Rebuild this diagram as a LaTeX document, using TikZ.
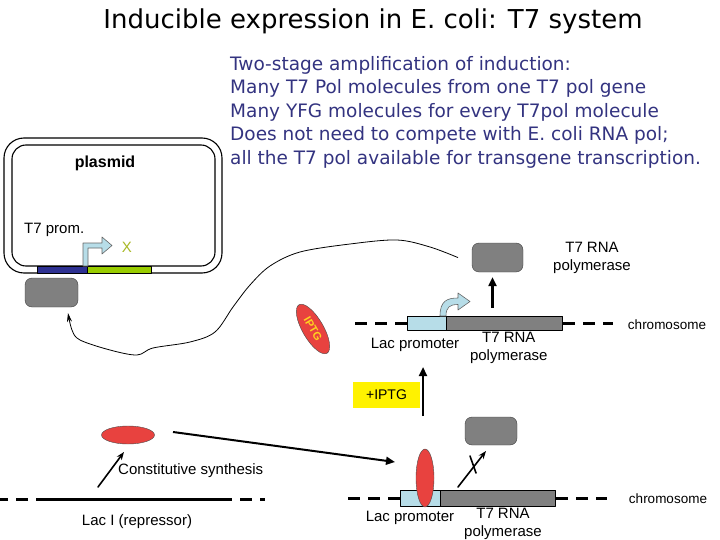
\documentclass[tikz,border=0pt]{standalone}
\usepackage{fontspec}
\setmainfont{Liberation Sans}
\newfontfamily\handfont{DejaVu Sans}
\usetikzlibrary{shapes.geometric, arrows.meta, positioning}
\definecolor{polgray}{HTML}{808080}
\definecolor{lacblue}{HTML}{B7DDE8}
\definecolor{promnavy}{HTML}{2E3192}
\definecolor{genegreen}{HTML}{99CC00}
\definecolor{repred}{HTML}{E8423F}
\definecolor{infonavy}{HTML}{333380}
\definecolor{xolive}{HTML}{A9B826}
\definecolor{iptggold}{HTML}{FFD21F}
\tikzset{
  polbox/.style={draw=black!75, fill=polgray, rounded corners=7pt, inner sep=0pt},
  lbl/.style={inner sep=0pt, align=center, font=\fontsize{15}{18}\selectfont},
  chromo/.style={line width=3pt, line cap=butt, dash pattern=on 12pt off 8pt},
  genebar/.style={draw=black, line width=0.8pt, inner sep=0pt},
  repellipse/.style={ellipse, draw=black!70, fill=repred, inner sep=0pt},
  infoline/.style={anchor=west, inner sep=0pt, text=infonavy, font=\handfont\fontsize{18.5}{20}\selectfont},
  blackarrow/.style={-{Triangle[length=9pt, width=8pt]}, line width=2.2pt, line cap=butt},
  thinarrow/.style={-{Stealth[length=8pt, width=6pt]}, line width=1.6pt},
}
\begin{document}
\begin{tikzpicture}[x=1pt, y=-1pt, line cap=round, line join=round]
\useasboundingbox (0,0) rectangle (720,540);
% title and notes
\node[inner sep=0pt, font=\handfont\fontsize{26}{30}\selectfont] (title) at (373,21) {Inducible expression in E. coli: T7 system};
\foreach \txt [count=\i] in {{Two-stage amplification of induction:}, {Many T7 Pol molecules from one T7 pol gene}, {Many YFG molecules for every T7pol molecule}, {Does not need to compete with E. coli RNA pol;}, {all the T7 pol available for transgene transcription.}}
  \node[infoline] (info\i) at (230, {41.5+23.5*\i}) {\txt};

% plasmid
\draw[line width=1.1pt, rounded corners=20pt] (4,138) rectangle (222,273);
\draw[line width=1.1pt, rounded corners=14pt] (12,145) rectangle (215,266);
\node[genebar, fill=promnavy, minimum width=50pt, minimum height=7pt] (t7prom) at (62,269.5) {};
\node[genebar, fill=genegreen, minimum width=64pt, minimum height=7pt, right=0pt of t7prom] (xgene) {};
\draw[fill=lacblue, draw=black!60, line width=0.6pt] (83,266) -- (83,243) -- (102,243) -- (102,237) -- (112,245.5) -- (102,254) -- (102,248) -- (88,248) -- (88,266) -- cycle;
\node[lbl, font=\bfseries\fontsize{16}{19}\selectfont] (plasmid) at (105,163) {plasmid};
\node[lbl, anchor=west] (promlbl) at (24,230) {T7 prom.};
\node[lbl, text=xolive] (xlbl) at (127,247) {X};
\node[polbox, minimum width=53pt, minimum height=29pt] (plasmidpol) at (51.5,292.5) {};

% induced chromosome
\node[genebar, fill=lacblue, minimum width=39pt, minimum height=14pt] (midlac) at (426.5,323) {};
\node[genebar, fill=polgray, minimum width=116pt, minimum height=14pt, right=0pt of midlac] (midgene) {};
\coordinate (midleft) at (350,323);
\coordinate (midright) at (613,323);
\draw[chromo] (midlac.west) -- (midleft);
\draw[chromo] (midgene.east) -- (midright);
\draw[fill=lacblue, draw=black!60, line width=0.6pt] (440,316) .. controls (440,301) and (447,298) .. (458,298) -- (458,293) -- (470,301.5) -- (458,310) -- (458,304.5) .. controls (450,304.5) and (446,307) .. (446,316) -- cycle;
\node[polbox, minimum width=51pt, minimum height=29pt] (midpol) at (497.5,257.5) {};
\coordinate (midup) at ([xshift=-5pt]midpol.south);
\draw[blackarrow, shorten <=8pt, shorten >=5pt] (midup |- midgene.north) -- (midup);
\node[lbl] (midpollbl) at (592,257.5) {T7 RNA\\polymerase};
\node[lbl, below=2pt of midgene, xshift=4pt] (midgenelbl) {T7 RNA\\polymerase};
\node[lbl] (midlaclbl) at (415,345) {Lac promoter};
\node[lbl, font=\fontsize{13.5}{16}\selectfont] (midchr) at (667,325) {chromosome};

% T7 pol goes back to the plasmid
\coordinate (curvestart) at ([xshift=-14pt]midpol.west);
\coordinate (curvetip) at (68,313);
\draw[line width=0.8pt, -{Stealth[length=9pt, width=5pt]}] plot[smooth, tension=0.55] coordinates {(curvestart) (430,247) (397,240) (350,244) (300,252) (270,266) (250,285) (233,307) (215,332) (190,342) (153,348) (137,355) (110,350) (80,340) (72,330) (curvetip)};

% inducer
\node[repellipse, minimum width=56pt, minimum height=21pt, rotate=-60, text=iptggold, font=\bfseries\fontsize{11}{13}\selectfont] (iptg) at (313,329) {IPTG};
\node[fill=yellow, minimum width=67pt, minimum height=26pt, inner sep=0pt, font=\fontsize{14}{16}\selectfont] (plusiptg) at (386.5,395) {+IPTG};
\coordinate (iptgfoot) at (423,416);
\coordinate (iptgtip) at (423,367);
\draw[blackarrow] (iptgfoot) -- (iptgtip);

% repressed chromosome
\node[genebar, fill=lacblue, minimum width=40pt, minimum height=16pt] (botlac) at (420,498) {};
\node[genebar, fill=polgray, minimum width=115pt, minimum height=16pt, right=0pt of botlac] (botgene) {};
\coordinate (botleft) at (343,498);
\coordinate (botright) at (607,498);
\draw[chromo] (botlac.west) -- (botleft);
\draw[chromo] (botgene.east) -- (botright);
\node[repellipse, minimum width=18pt, minimum height=58pt] (repbound) at (425,478) {};
\node[polbox, minimum width=52pt, minimum height=28pt] (botpol) at (491,431) {};
\coordinate (blockfoot) at (458,487);
\coordinate (blocktip) at (486,451);
\draw[thinarrow] (blockfoot) -- (blocktip);
\draw[line width=1.6pt] (470,456) -- (476,473);
\node[lbl] (botlaclbl) at (410,518) {Lac promoter};
\node[lbl] (botgenelbl) at (503,524) {T7 RNA\\polymerase};
\node[lbl, font=\fontsize{13.5}{16}\selectfont] (botchr) at (668,499) {chromosome};

% repressor gene
\coordinate (lacIleft) at (0,499);
\coordinate (lacIstart) at (48,499);
\coordinate (lacIend) at (220,499);
\coordinate (lacIright) at (265,499);
\draw[chromo] (lacIstart) -- (lacIleft);
\draw[line width=3pt, line cap=butt] (lacIstart) -- (lacIend);
\draw[chromo] (lacIend) -- (lacIright);
\node[repellipse, minimum width=53pt, minimum height=18pt] (repfree) at (128,435) {};
\coordinate (constfoot) at (98,487);
\coordinate (consttip) at (124,452);
\draw[thinarrow] (constfoot) -- (consttip);
\node[lbl, anchor=west] (constlbl) at (118,471) {Constitutive synthesis};
\node[lbl] (lacIlbl) at (137,522) {Lac I (repressor)};
\coordinate (repfoot) at (173,432);
\coordinate (reptip) at (395,462);
\draw[blackarrow, line width=2pt] (repfoot) -- (reptip);
\end{tikzpicture}
\end{document}
